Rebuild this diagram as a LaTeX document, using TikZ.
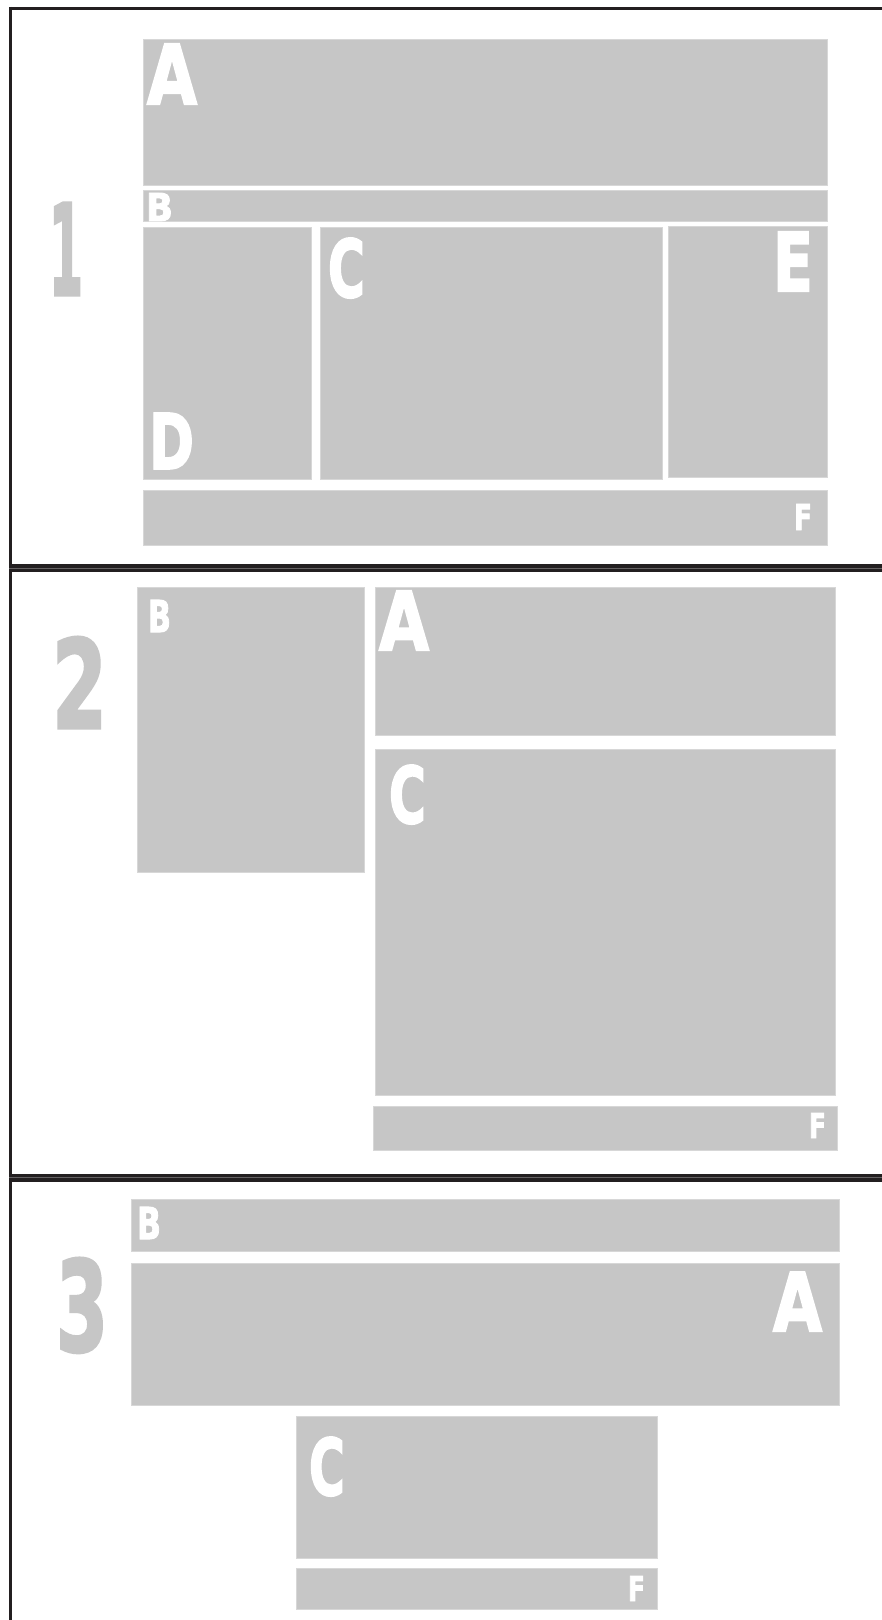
\documentclass[tikz,border=0pt]{standalone}
\usepackage{fontspec}
\setmainfont{DejaVu Sans}
\newfontfamily\heavy[FakeBold=2.5]{DejaVu Sans Bold}
\usepackage{graphicx}
\definecolor{boxgray}{HTML}{C6C6C6}
\definecolor{framek}{HTML}{231F20}
\newcommand{\glyphfit}[3]{\resizebox{\dimexpr #1pt/2\relax}{\dimexpr #2pt/2\relax}{\heavy #3}}
\tikzset{
  panelbox/.style={fill=boxgray, draw=boxgray!70!white, line width=0.5pt},
  letter/.style={inner sep=0pt, outer sep=0pt, anchor=north west, text=white},
  numeral/.style={inner sep=0pt, outer sep=0pt, anchor=north west, text=boxgray},
  frameline/.style={draw=framek, line width=1.5pt},
  sepline/.style={draw=framek, line width=4pt}
}
\begin{document}
\begin{tikzpicture}[x=0.5pt, y=-0.5pt]
\useasboundingbox (0,0) rectangle (882,1620);
\fill[white] (0,0) rectangle (882,1620);
% frame
\coordinate (tl) at (9,8.5);
\coordinate (tr) at (882,8.5);
\coordinate (lt) at (10.5,7);
\coordinate (lb) at (10.5,1620);
\coordinate (s1l) at (9,568);
\coordinate (s1r) at (882,568);
\coordinate (s2l) at (9,1177.5);
\coordinate (s2r) at (882,1177.5);
\draw[frameline] (tl) -- (tr);
\draw[frameline] (lt) -- (lb);
\draw[sepline] (s1l) -- (s1r);
\draw[sepline] (s2l) -- (s2r);
\draw[draw=framek!70!white, line width=0.4pt] (s1l) -- (s1r);
\draw[draw=framek!70!white, line width=0.4pt] (s2l) -- (s2r);

% panel 1
\path[panelbox] (143.5,40) rectangle (827,186);
\path[panelbox] (143.5,191) rectangle (827,222);
\path[panelbox] (143.5,227.5) rectangle (311,479);
\path[panelbox] (320,227.5) rectangle (662.5,479);
\path[panelbox] (668,226.5) rectangle (827,477.5);
\path[panelbox] (143.5,490.5) rectangle (827,545);
\node[numeral] (n1) at (49,203) {\glyphfit{34}{92}{1}};
\node[letter] (p1A) at (147,44) {\glyphfit{50}{60}{A}};
\node[letter] (p1B) at (146,193) {\glyphfit{27}{28}{B}};
\node[letter] (p1C) at (328,238) {\glyphfit{37}{59}{C}};
\node[letter] (p1D) at (149,413) {\glyphfit{45}{56}{D}};
\node[letter] (p1E) at (773,232) {\glyphfit{40}{59}{E}};
\node[letter] (p1F) at (794,504) {\glyphfit{18}{26}{F}};

% panel 2
\path[panelbox] (137.5,587.5) rectangle (364.5,872);
\path[panelbox] (375,587.5) rectangle (835,735);
\path[panelbox] (375,749) rectangle (835,1095);
\path[panelbox] (373,1106) rectangle (837,1150);
\node[numeral] (n2) at (52,637) {\glyphfit{55}{91}{2}};
\node[letter] (p2B) at (148,600) {\glyphfit{23}{32}{B}};
\node[letter] (p2A) at (379,591) {\glyphfit{50}{59}{A}};
\node[letter] (p2C) at (389,765) {\glyphfit{37}{58}{C}};
\node[letter] (p2F) at (809,1113) {\glyphfit{17}{25}{F}};

% panel 3
\path[panelbox] (131,1199) rectangle (839.5,1251);
\path[panelbox] (131,1263) rectangle (839.5,1405);
\path[panelbox] (296.5,1416) rectangle (657.5,1558);
\path[panelbox] (296.5,1568) rectangle (657.5,1609);
\node[numeral] (n3) at (56,1258) {\glyphfit{52}{93}{3}};
\node[letter] (p3B) at (137,1207) {\glyphfit{24}{32}{B}};
\node[letter] (p3A) at (773,1272) {\glyphfit{49}{59}{A}};
\node[letter] (p3C) at (309,1437) {\glyphfit{36}{58}{C}};
\node[letter] (p3F) at (628,1576) {\glyphfit{17}{25}{F}};
\end{tikzpicture}
\end{document}
